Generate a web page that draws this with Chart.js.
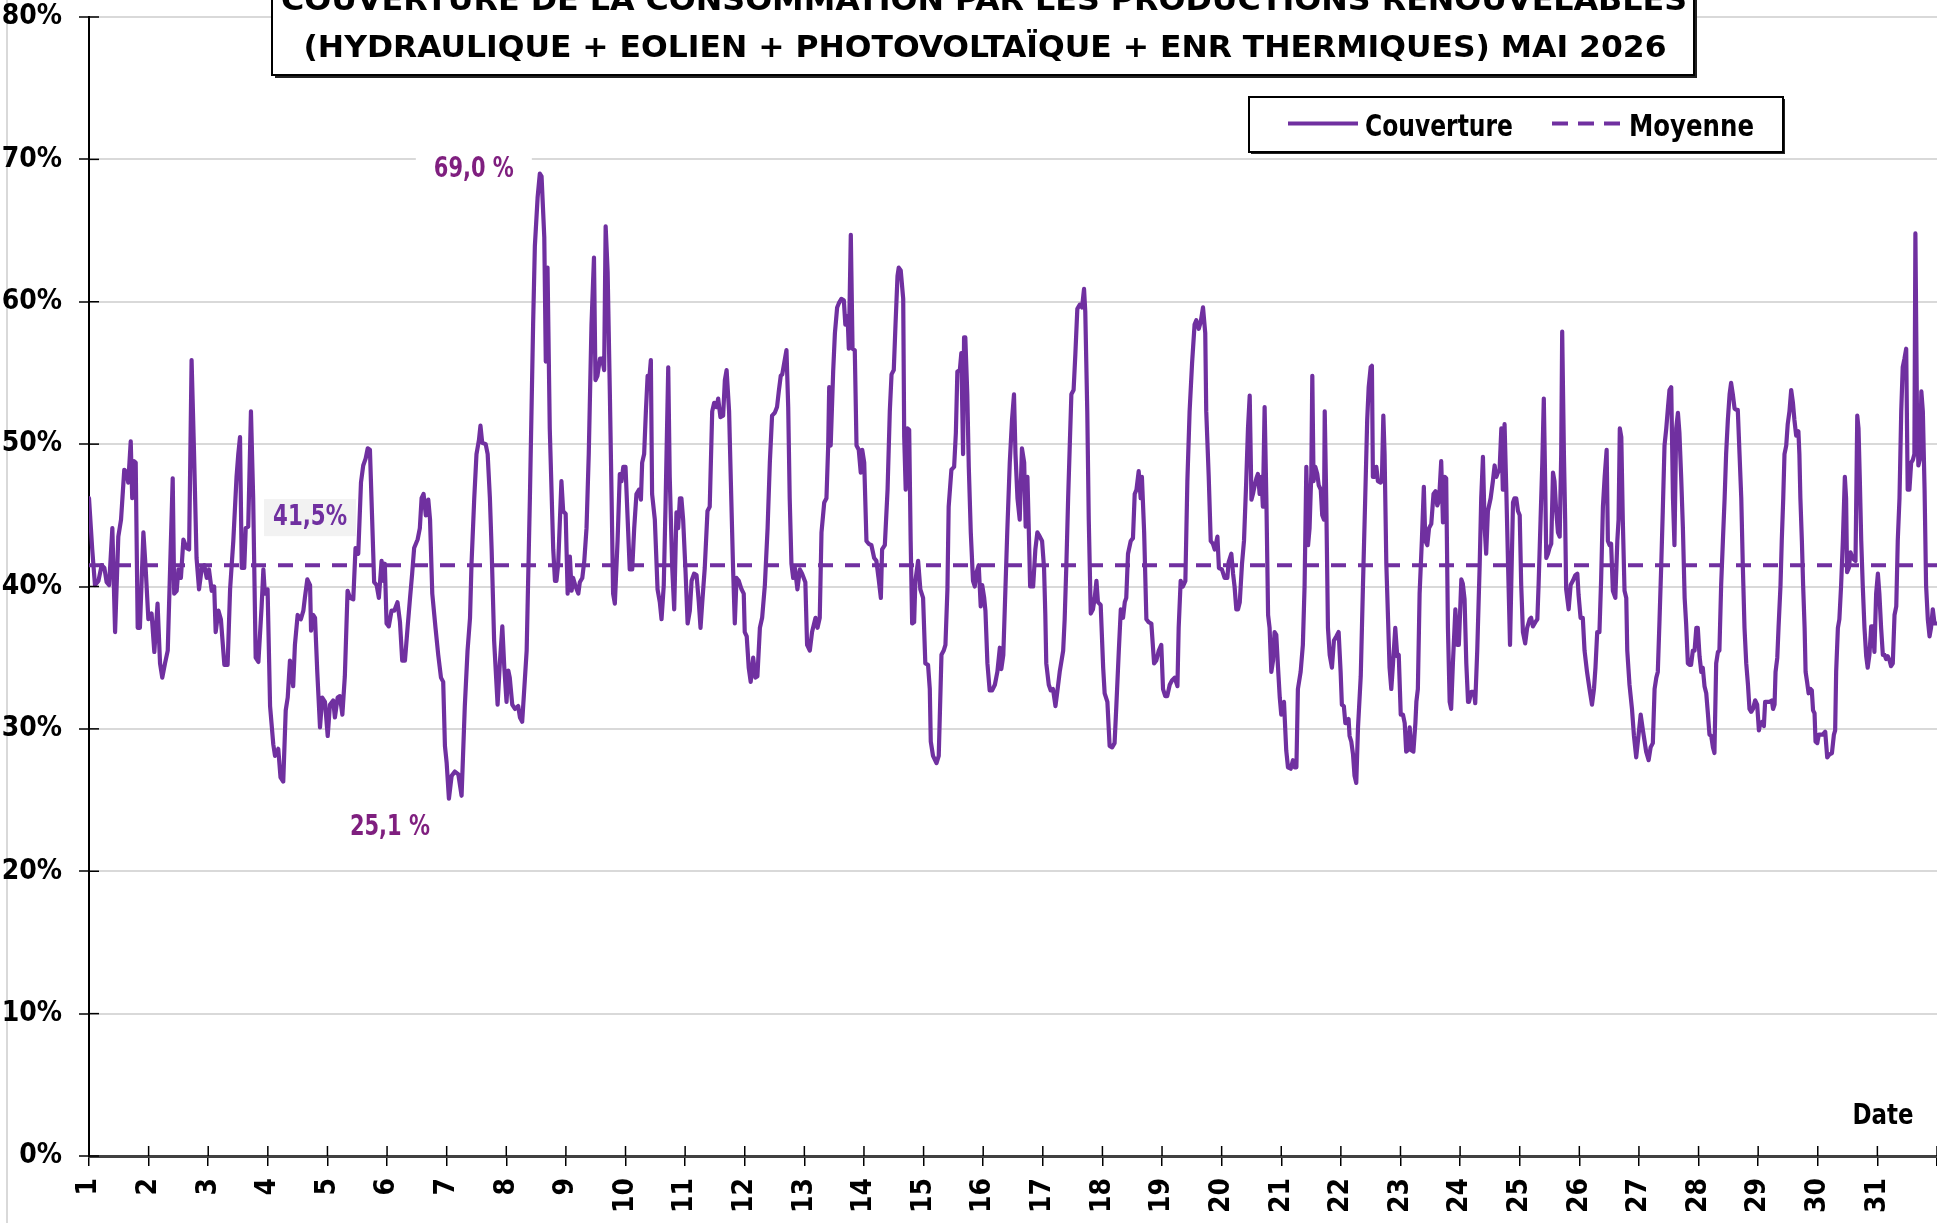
<!DOCTYPE html>
<html lang="fr">
<head>
<meta charset="utf-8">
<title>Couverture ENR - mai 2026</title>
<script src="https://cdn.jsdelivr.net/npm/chart.js@4.4.1/dist/chart.umd.min.js"></script>
<style>
  html, body { margin: 0; padding: 0; background: #fff; }
  #cadre { position: relative; width: 1937px; height: 1223px; }
</style>
</head>
<body>
<div id="cadre"><canvas id="graphique"></canvas></div>
<script>
// heures depuis le 1er mai 0h
const heures = [
  0, 1.3, 2.4, 3.8, 5.1, 6.2, 7.1, 8.1, 9.4, 10.5, 11.8, 12.9,
  14.2, 15.2, 15.8, 16.8, 17.4, 18.1, 18.8, 19.6, 20.5, 21.9, 22.8, 23.9,
  25.2, 26.3, 27.6, 28.6, 29.5, 30.6, 31.7, 33.7, 34.3, 35.3, 36.0, 37.0,
  38.0, 39.3, 40.3, 41.3, 42.3, 43.3, 44.3, 45.4, 46.4, 47.4, 48.3, 49.4,
  50.4, 51.0, 52.1, 53.1, 54.5, 55.8, 56.8, 58.1, 59.4, 60.1, 60.8, 61.5,
  62.5, 63.1, 64.1, 65.2, 66.1, 67.1, 68.2, 69.5, 70.2, 70.8, 71.9, 72.9,
  74.2, 74.9, 76.2, 77.1, 78.2, 79.2, 80.0, 80.9, 82.2, 82.9, 84.0, 85.3,
  86.3, 86.9, 87.9, 89.0, 89.4, 90.3, 91.0, 91.9, 93.0,
  93.9, 95.0, 96.1, 97.0, 98.3, 99.0, 100.1, 101.0, 102.0, 103.0, 104.1, 105.1,
  106.4, 107.3, 108.4, 109.5, 110.4, 111.4, 112.2, 113.1, 114.0, 114.8, 115.8, 116.7,
  117.8, 118.5, 119.1, 119.8, 120.7, 121.8, 122.9, 124.2, 125.2, 126.1, 127.2, 128.3,
  129.2, 130.1, 130.9, 132.3, 133.2, 133.9, 134.7, 135.6, 136.6, 137.3, 138.2, 139.5,
  140.6, 141.7, 142.6, 143.3, 144.0, 144.9, 146.0, 147.3, 148.7, 150.0, 151.3, 152.4,
  153.4, 154.0, 155.1, 156.0, 157.0, 157.6, 158.3, 159.7, 160.5, 161.4, 162.1, 163.1,
  164.5, 165.4, 166.4, 167.2, 168.1, 168.8, 169.4, 170.4, 171.5, 172.8, 173.5, 174.4,
  175.2, 176.2, 177.5, 178.8, 179.5, 180.6, 181.5, 182.2, 183.3, 183.9, 184.6, 185.5,
  186.9, 187.6, 188.2, 188.9, 190.2, 190.9, 191.9, 192.7, 193.6, 194.3, 194.9, 195.9,
  197.0, 197.6, 198.6, 199.4, 200.3, 201.2, 202.3, 203.3, 203.9, 204.7, 205.7, 206.6,
  207.4, 208.0, 208.8, 209.7, 210.4, 211.0, 211.7, 212.8, 213.7, 214.4, 215.1, 216.0,
  216.8, 217.7, 218.7, 219.5, 220.4, 221.4, 222.2, 222.7, 223.5, 224.2, 224.9, 225.4,
  226.2, 226.7, 227.8, 228.9, 229.8, 230.5, 231.4, 232.1, 233.2, 233.8, 234.8, 235.6,
  236.5, 237.2, 237.9, 238.5, 239.2, 240.2, 241.0, 241.9, 242.6, 243.6, 244.6, 245.5,
  246.2, 246.9, 247.9, 249.0, 249.9, 250.9, 251.7, 252.6, 253.3, 254.2, 255.3, 256.0,
  256.7, 257.7, 258.4, 259.3, 260.0, 260.7, 261.6, 262.7, 263.6, 264.0, 264.8, 265.6,
  266.4, 267.4, 268.3, 269.1, 270.1, 271.0, 272.1, 273.2, 274.1, 275.0, 276.1, 277.0,
  277.7, 278.5, 279.1, 279.9, 280.8, 281.5, 282.1, 282.8, 283.5, 284.2, 285.2, 286.2,
  287.1, 288.4, 289.1, 290.2, 291.1, 292.5, 293.3, 294.2, 294.9, 296.0, 296.9, 297.6,
  298.0, 298.6, 299.6, 300.3, 301.2, 301.9, 302.9, 303.9, 304.5, 305.4, 305.9, 306.7,
  307.4, 308.3, 309.0, 309.9, 310.7, 311.3, 312.1, 313.0, 313.9, 315.0, 316.1, 317.0,
  318.0, 318.8, 319.3, 320.4, 321.5, 322.4, 323.1, 324.0, 324.7, 325.5, 326.0, 326.8,
  327.8, 328.2, 328.8, 329.5, 330.2, 330.8, 331.4, 332.2, 332.7, 333.8, 334.7, 335.8,
  336.7, 337.8, 338.5, 338.9, 339.8, 341.2, 342.1, 343.2, 344.1, 344.8, 345.6, 346.1,
  347.2, 348.3, 349.0, 349.6, 350.6, 351.2, 351.9, 352.3, 352.8, 353.6, 354.2, 355.0,
  355.9, 356.6, 357.3, 358.2, 359.0, 359.6, 360.4, 360.9, 361.7, 362.6, 363.6, 364.7,
  365.7, 366.7, 367.3, 368.1,
  369.7, 370.7, 371.6, 372.4, 373.0, 373.8, 374.7, 375.6, 376.5, 377.1, 377.8, 378.3,
  378.9, 380.1, 381.0, 381.8, 382.8, 383.7, 384.5, 385.0, 385.4, 386.4, 387.2, 388.1,
  389.1, 389.9, 390.8, 392.2, 392.8, 393.5, 394.2, 394.8, 395.5, 396.4, 397.1, 397.9,
  398.9, 399.8, 400.6, 401.1, 401.9, 402.5, 403.3, 404.2, 404.9, 405.6, 406.2, 407.3,
  408.3, 408.9, 410.0, 410.9, 411.9, 412.9, 413.6, 414.6, 415.4, 416.3, 417.0, 417.6,
  418.3, 419.4, 420.3, 421.0, 421.7, 422.6, 423.4, 423.9, 424.8, 425.7, 426.6, 427.7,
  428.8, 429.7, 430.7, 431.7, 432.4, 433.3, 434.1, 435.1, 436.0, 437.1, 438.2, 438.7,
  439.5, 440.4, 441.4, 442.2, 443.1, 444.1, 445.1, 445.8, 446.8, 447.6, 448.5, 449.4,
  449.8, 450.8, 451.6, 452.5, 453.2, 454.3, 454.9, 456.1, 457.2, 458.3, 458.8, 459.9,
  460.6, 461.2, 461.9, 462.6,
  463.3, 464.2, 465.0, 465.9, 466.6, 467.3, 468.0, 468.6, 469.3, 470.0, 470.6, 471.3,
  472.0, 472.6, 473.3, 474.0, 474.7, 475.3, 476.0, 476.7, 477.3, 478.0, 478.7, 479.4,
  480.0, 481.1, 482.0, 482.7, 483.8, 484.7, 485.4, 486.1, 486.7, 487.8, 488.7, 489.4,
  490.1, 490.8, 491.4, 492.1, 492.5, 493.0, 493.7, 494.5, 495.1, 495.9, 496.5, 497.2,
  497.5, 498.1, 498.8, 499.5, 500.4, 501.2, 502.2, 503.1, 503.9, 504.4, 505.2, 505.8,
  506.6, 507.1, 507.5, 508.2, 508.9, 509.5, 510.2, 510.9, 512.0, 512.9, 513.8, 514.6,
  515.2, 516.0, 516.5, 516.9, 517.6, 518.3, 518.9, 520.0, 520.5, 521.1, 521.6, 522.3,
  523.0, 523.6, 524.3, 525.0, 525.9, 526.7, 527.3, 528.1, 529.0, 529.7, 530.3, 531.0,
  531.7, 532.4, 533.2, 534.0, 534.4, 535.0, 535.7, 536.6, 537.4, 538.0, 538.8, 539.5,
  540.4, 541.3, 542.1, 542.8, 543.5, 544.4, 545.1, 545.8, 546.4, 547.1, 547.8, 548.4,
  549.1, 550.1, 550.9, 551.5, 552.5, 553.1, 553.8, 554.5, 555.2,
  555.6, 556.5, 557.6, 558.1, 558.9, 559.9, 560.5, 561.2, 561.9, 562.5, 563.2, 564.3,
  565.2, 565.9, 566.6, 567.2, 567.9, 568.6, 569.2, 569.9, 570.6, 571.3, 572.1, 572.6,
  573.3, 573.9, 574.6, 575.3, 576.0, 576.6, 577.3, 578.2, 579.0, 580.0, 580.6, 581.3,
  582.3, 583.1, 583.6, 584.4, 585.1, 585.7, 586.3, 586.7, 587.4, 588.0, 588.7, 589.4,
  590.0, 590.7, 591.4, 592.1, 592.7, 593.1, 593.8, 594.3, 594.7, 595.7, 596.5, 597.4,
  598.4, 599.2, 599.7, 600.5, 601.4, 602.1, 603.1, 604.1, 605.1, 605.9, 606.5, 607.2,
  608.1, 608.8, 609.5, 610.2, 611.0, 611.5, 612.2, 612.8, 613.5, 614.5, 615.3, 615.8,
  616.3, 616.9, 617.5, 618.2, 618.9, 619.3, 620.2, 621.2, 622.0, 622.9, 623.8, 624.7,
  625.6, 626.3, 626.9, 627.9, 628.7, 629.6, 630.3, 631.0, 631.6, 632.3, 633.0, 633.6,
  634.3, 635.0, 635.7, 636.3, 637.0, 637.7, 638.3, 639.0, 639.7, 640.3, 641.0, 641.7,
  642.4, 643.0, 643.7, 644.4, 645.0, 645.7, 646.4, 647.1,
  647.7, 648.4, 649.1, 649.7, 650.4, 651.1, 651.8, 652.4, 653.1, 653.8, 654.4, 655.1,
  655.8, 656.4, 657.1, 657.8, 658.5, 659.1, 659.8, 660.5, 661.1, 661.8, 662.5, 663.2,
  663.8, 664.5, 665.2, 665.8, 666.5, 667.2, 667.9, 668.5, 669.2, 669.9, 670.8, 671.6,
  672.3, 672.9, 673.6, 674.3, 674.8, 675.6, 676.6, 677.5, 678.0, 678.6, 679.0, 679.7,
  680.2, 681.0, 681.5, 682.1, 682.6, 683.3, 683.9, 684.6, 685.3, 686.0, 686.6, 687.3,
  688.2, 688.6, 689.0, 689.6, 690.1, 690.7, 691.1, 691.7, 692.3, 693.1, 693.6, 694.1,
  694.7, 695.1, 695.8, 696.4, 697.1, 698.0, 699.0, 699.8, 700.7, 701.7, 702.5, 703.0,
  703.4, 704.1, 704.7, 705.4, 706.1, 706.9, 707.4, 707.8, 708.5, 709.2, 709.8, 710.5,
  711.2, 711.9, 712.4, 712.9, 713.5, 714.1, 714.8, 715.5, 716.1, 716.8, 717.5, 718.2,
  718.8, 719.5, 720.2, 720.8, 721.5, 722.2, 722.9, 723.5, 724.2, 724.9, 725.5, 726.2,
  726.9, 727.6, 728.2, 728.9, 729.6, 730.2, 730.9, 731.6, 732.2, 732.9, 733.6, 734.3,
  734.9, 735.3, 735.9, 736.5, 737.2, 737.7, 738.3, 739.0, 739.6, 740.3, 741.0, 741.6,
  742.3, 743.0, 743.8
];

// taux de couverture (%)
const couverture = [
  46.2, 42.6, 40.1, 40.4, 41.5, 41.3, 40.3, 40.1, 44.1, 36.8, 43.5, 44.7,
  48.2, 48.0, 47.3, 50.2, 46.2, 48.8, 48.7, 37.1, 37.1, 43.8, 41.3, 37.7,
  38.1, 35.4, 38.8, 34.6, 33.6, 34.6, 35.5, 47.6, 39.5, 39.7, 41.2, 40.6,
  43.3, 42.7, 42.6, 55.9, 49.3, 42.0, 39.8, 41.3, 41.5, 40.6, 41.2, 39.7,
  40.0, 36.8, 38.3, 37.7, 34.5, 34.5, 39.8, 43.2, 47.7, 49.3, 50.5, 41.3,
  41.3, 44.1, 44.2, 52.3, 46.2, 35.0, 34.7, 38.6, 41.2, 39.5, 39.8, 31.6,
  28.9, 28.1, 28.6, 26.6, 26.3, 31.3, 32.2, 34.8, 33.0, 35.9, 38.0, 37.7,
  38.3, 39.2, 40.5, 40.1, 36.9, 38.0, 37.8, 34.0, 30.1,
  32.2, 31.9, 29.5, 31.7, 32.0, 30.8, 32.2, 32.3, 31.0, 33.7, 39.7, 39.2,
  39.1, 42.7, 42.3, 47.3, 48.5, 49.0, 49.7, 49.6, 44.7, 40.3, 40.1, 39.2,
  41.8, 40.4, 41.6, 37.4, 37.2, 38.3, 38.3, 38.9, 37.5, 34.8, 34.8, 37.2,
  39.1, 40.9, 42.7, 43.3, 44.1, 46.2, 46.5, 45.0, 46.1, 44.7, 39.5, 37.1,
  35.2, 33.6, 33.3, 28.8, 27.6, 25.1, 26.7, 27.0, 26.8, 25.3, 31.6, 35.5,
  37.8, 41.6, 46.2, 49.3, 50.3, 51.3, 50.1, 50.0, 49.3, 46.2, 42.6, 36.2,
  31.7, 34.6, 37.2, 34.3, 31.9, 34.1, 33.6, 31.7, 31.4, 31.6, 30.8, 30.5,
  32.7, 35.5, 46.2, 58.4, 63.9, 67.3, 69.0, 68.8, 64.5, 55.8, 62.4, 51.1,
  42.6, 40.4, 40.4, 41.6, 47.4, 45.3, 45.1, 39.5, 42.1, 39.7, 40.6, 40.0,
  39.5, 40.3, 40.6, 41.8, 44.1, 49.3, 58.4, 63.1, 54.5, 54.8, 56.0, 56.0,
  55.2, 65.3, 62.1, 53.5, 46.2, 39.5, 38.8, 43.2, 47.9, 47.4, 48.4, 48.4,
  45.0, 41.2, 41.2, 44.1, 46.5, 46.8, 46.1, 48.7, 49.3, 52.3, 54.8, 54.2,
  55.9, 46.5, 44.7, 39.8, 38.9, 37.7, 40.1, 45.6, 55.4, 47.7, 41.3, 38.4,
  45.2, 44.1, 46.2, 46.2, 44.7, 40.9, 37.4, 38.3, 40.4, 40.9, 40.8, 38.9,
  37.1, 38.9, 41.3, 45.3, 45.6, 52.3, 52.9, 52.6, 53.2, 51.9, 52.0, 54.5,
  55.2, 52.3, 47.4, 41.3, 37.4, 40.6, 40.4, 39.8, 39.5, 36.8, 36.5, 34.3,
  33.3, 35.0, 33.6, 33.7, 37.1, 37.8, 40.1, 44.1, 48.7, 52.0, 52.2, 52.6,
  53.7, 54.8, 54.9, 55.7, 56.6, 52.6, 46.2, 41.6, 40.6, 41.3, 39.8, 41.2,
  40.9, 40.3, 35.9, 35.5, 36.8, 37.8, 37.1, 37.8, 43.8, 45.9, 46.2, 49.9,
  54.0, 49.9, 55.1, 57.8, 59.6, 59.9, 60.2, 60.1, 58.4, 59.0, 56.7, 64.7,
  56.7, 56.6, 49.9, 49.6, 48.0, 49.6, 48.7, 43.2, 43.0, 42.9, 42.0, 41.8,
  40.4, 39.2, 42.6, 42.9, 46.8, 52.3, 54.9, 55.2, 58.4, 61.8, 62.4, 62.2,
  60.2, 50.5, 46.8, 51.1, 51.0, 43.2, 37.4, 37.5, 40.4, 41.8, 39.8, 39.2,
  34.6, 34.5, 32.8, 29.1, 28.1, 27.6, 28.1, 35.2, 35.5, 35.9, 39.8, 45.6,
  48.2, 48.4, 50.8, 55.1, 55.2, 56.4, 49.3, 57.5, 57.5, 53.5, 48.4, 43.8,
  40.4, 40.0, 41.0, 41.5, 38.6, 40.1, 39.2, 38.3, 34.6, 32.7, 32.7, 33.1,
  34.0, 35.7, 34.2, 35.2,
  43.9, 48.7, 51.7, 53.5, 49.3, 46.2, 44.7, 49.7, 48.7, 44.2, 47.7, 44.4,
  40.0, 40.0, 42.6, 43.8, 43.5, 43.2, 41.3, 38.1, 34.6, 33.1, 32.7, 32.8,
  31.6, 32.7, 34.0, 35.5, 37.7, 41.6, 46.2, 49.6, 53.5, 53.8, 56.3, 59.5,
  59.8, 59.6, 60.9, 59.3, 52.3, 44.7, 38.1, 38.4, 39.2, 40.4, 38.9, 38.7,
  34.3, 32.5, 31.9, 28.8, 28.7, 29.0, 31.6, 35.5, 38.4, 37.8, 38.9, 39.2,
  42.3, 43.2, 43.4, 46.5, 46.8, 48.1, 46.2, 47.7, 43.8, 37.7, 37.5, 37.4,
  34.6, 34.8, 35.5, 35.9, 32.8, 32.3, 32.3, 33.1, 33.4, 33.6, 33.0, 37.1,
  40.4, 40.0, 40.4, 47.4, 52.3, 55.7, 58.4, 58.7, 58.1, 58.6, 59.6, 57.8,
  52.3, 47.7, 43.2, 43.0, 42.6, 43.5, 41.3, 41.2, 40.6, 40.6, 41.7, 42.3,
  40.9, 40.0, 38.4, 38.4,
  38.9, 41.6, 43.2, 47.4, 51.1, 53.4, 46.1, 46.5, 47.1, 47.6, 47.9, 46.5,
  47.7, 45.6, 52.6, 46.2, 38.0, 37.1, 34.0, 34.8, 36.8, 36.6, 34.3, 32.2,
  31.0, 31.9, 28.5, 27.3, 27.2, 27.8, 27.3, 27.3, 32.8, 34.0, 35.9, 40.1,
  48.4, 42.9, 44.1, 48.0, 54.8, 47.4, 48.4, 47.9, 47.1, 46.8, 45.0, 44.7,
  52.3, 46.2, 37.1, 35.2, 34.3, 36.2, 36.5, 36.8, 34.0, 31.7, 31.6, 30.4,
  30.4, 30.7, 29.5, 29.1, 28.2, 26.7, 26.2, 30.1, 33.7, 40.1, 46.2, 51.7,
  54.0, 55.4, 55.5, 47.7, 47.7, 48.4, 47.4, 47.3, 47.4, 52.0, 49.3, 41.6,
  37.7, 34.3, 32.8, 34.6, 37.1, 35.1, 35.2, 31.0, 31.0, 30.4, 28.4, 28.5,
  30.1, 28.5, 28.4, 30.4, 31.9, 32.8, 39.5, 43.2, 47.0, 43.2, 42.9, 44.1,
  44.4, 46.5, 46.7, 45.7, 46.0, 48.8, 44.5, 47.7, 47.6, 37.1, 31.9, 31.4,
  34.6, 38.4, 35.9, 35.9, 40.5, 40.2, 39.1, 34.6, 31.9,
  31.9, 32.6, 32.6, 31.8, 35.5, 41.6, 46.2, 49.1, 44.1, 42.3, 45.3, 46.2,
  47.4, 48.5, 47.7, 48.0, 48.2, 51.1, 46.8, 51.4, 46.8, 41.6, 35.9, 40.1,
  45.9, 46.2, 46.2, 45.3, 45.0, 40.1, 36.8, 36.0, 37.1, 37.7, 37.8, 37.2,
  37.5, 37.7, 40.1, 44.7, 48.7, 53.2, 46.8, 42.0, 42.3, 42.7, 43.0, 48.0,
  47.4, 45.3, 43.8, 43.5, 49.3, 57.9, 49.3, 44.7, 39.8, 38.4, 40.1, 40.4,
  40.8, 40.9, 39.4, 37.8, 37.8, 35.5, 34.0, 32.8, 31.7, 32.8, 34.3, 36.8,
  36.8, 40.6, 45.6, 47.7, 49.6, 43.2, 42.9, 43.0, 39.7, 39.2, 43.2, 44.7,
  51.1, 50.5, 44.7, 39.7, 39.2, 35.5, 33.1, 31.4, 29.5, 28.0, 29.5, 31.0,
  29.9, 29.1, 28.4, 27.8, 28.7, 29.0, 32.8, 33.6, 34.0, 37.7, 41.6, 45.3,
  49.9, 51.1, 52.6, 53.8, 54.0, 46.2, 42.9, 51.1, 52.2, 50.8, 47.7, 44.1,
  39.2, 37.4, 34.6, 34.5, 34.5, 35.5, 35.5, 37.1,
  37.1, 35.1, 34.0, 34.3, 33.0, 32.5, 31.0, 29.6, 29.5, 28.7, 28.3, 34.6,
  35.4, 35.5, 40.1, 43.2, 46.2, 49.3, 51.7, 53.5, 54.3, 53.5, 52.5, 52.4,
  52.4, 49.3, 46.2, 41.6, 37.1, 34.6, 33.1, 31.4, 31.2, 31.4, 32.0, 31.7,
  29.9, 30.4, 30.5, 30.2, 31.9, 31.9, 31.9, 32.0, 31.4, 31.7, 34.0, 35.0,
  37.1, 40.1, 43.2, 46.2, 49.3, 49.9, 51.4, 52.3, 53.8, 52.9, 51.7, 50.6,
  50.9, 49.3, 46.2, 43.2, 40.1, 37.1, 34.0, 33.3, 32.5, 32.8, 32.7, 31.3,
  31.1, 29.1, 29.0, 29.6, 29.6, 29.6, 29.8, 28.0, 28.2, 28.3, 29.6, 29.9,
  34.0, 37.1, 37.7, 40.1, 43.2, 47.7, 46.2, 41.0, 41.3, 42.4, 42.1, 41.9,
  41.8, 52.0, 51.1, 47.7, 43.2, 40.1, 37.1, 35.1, 34.3, 35.2, 37.2, 37.2,
  35.4, 39.5, 40.9, 39.5, 37.1, 35.2, 35.2, 34.9, 35.1, 34.8, 34.4, 34.6,
  38.0, 38.6, 43.2, 46.2, 52.3, 55.4, 56.0, 56.7, 46.8, 46.8, 48.7, 48.9,
  49.3, 64.8, 52.9, 48.5, 49.0, 53.7, 52.3, 46.8, 40.1, 37.7, 36.5, 37.1,
  38.4, 37.4, 37.4
];

const moyenne = 41.5;
const jours = Array.from({ length: 31 }, (_, i) => i + 1);
const titre = [
  'COUVERTURE DE LA CONSOMMATION PAR LES PRODUCTIONS RENOUVELABLES',
  '(HYDRAULIQUE + EOLIEN + PHOTOVOLTAÏQUE + ENR THERMIQUES) MAI 2026'
];

if (heures.length !== couverture.length) console.warn('tailles differentes', heures.length, couverture.length);

const violet = '#7030A0';
const prune = '#7F1F7F';
const police = '"Liberation Sans Narrow", "DejaVu Sans Condensed", "Liberation Sans", sans-serif';

// texte étiré/compressé à une largeur donnée
function texteLargeur(ctx, txt, x, y, largeur, align) {
  const w = ctx.measureText(txt).width;
  const sx = largeur ? largeur / w : 1;
  ctx.save();
  ctx.translate(x, y);
  ctx.scale(sx, 1);
  ctx.textAlign = align || 'center';
  ctx.fillText(txt, 0, 0);
  ctx.restore();
}

function trait(ctx, x1, y1, x2, y2) {
  ctx.beginPath();
  ctx.moveTo(x1, y1);
  ctx.lineTo(x2, y2);
  ctx.stroke();
}

function boite(ctx, x1, y1, x2, y2, ombre) {
  ctx.fillStyle = '#222';
  ctx.fillRect(x1 + ombre, y1 + ombre, x2 - x1, y2 - y1);
  ctx.fillStyle = '#fff';
  ctx.fillRect(x1, y1, x2 - x1, y2 - y1);
  ctx.lineWidth = 2;
  ctx.strokeStyle = '#000';
  ctx.strokeRect(x1, y1, x2 - x1, y2 - y1);
}

const virgule = v => v.toFixed(1).replace('.', ',');

const habillage = {
  id: 'habillage',
  beforeDraw(chart) {
    const ctx = chart.ctx;
    ctx.save();
    ctx.fillStyle = '#fff';
    ctx.fillRect(0, 0, chart.width, chart.height);
    ctx.fillStyle = '#d9d9d9';
    ctx.fillRect(6, 0, 2, chart.height);
    ctx.restore();
  },
  beforeDatasetsDraw(chart) {
    const { ctx, scales: { x, y } } = chart;
    ctx.save();
    ctx.textBaseline = 'middle';
    ctx.font = 'bold 28px ' + police;

    // étiquette de la moyenne
    const mx = x.getPixelForValue(89), my = y.getPixelForValue(moyenne) - 48;
    ctx.fillStyle = '#f2f2f2';
    ctx.fillRect(mx - 46, my - 18, 92, 37);
    ctx.fillStyle = violet;
    texteLargeur(ctx, virgule(moyenne) + '%', mx, my + 1, 74);

    // maximum et minimum
    const vmax = Math.max(...couverture), vmin = Math.min(...couverture);
    const imax = couverture.indexOf(vmax), imin = couverture.indexOf(vmin);
    const ax = x.getPixelForValue(heures[imax]) - 66, ay = y.getPixelForValue(vmax) - 4;
    const bx = x.getPixelForValue(heures[imin]) - 59, by = y.getPixelForValue(vmin) + 29;
    ctx.fillStyle = '#fff';
    ctx.fillRect(ax - 58, ay - 16, 116, 32);
    ctx.fillRect(bx - 58, by - 16, 116, 32);
    ctx.fillStyle = prune;
    texteLargeur(ctx, virgule(vmax) + ' %', ax, ay, 80);
    texteLargeur(ctx, virgule(vmin) + ' %', bx, by, 80);
    ctx.restore();
  },
  afterDraw(chart) {
    const { ctx, scales: { x, y }, chartArea } = chart;
    ctx.save();

    // graduations intérieures (croisées)
    ctx.strokeStyle = '#000';
    ctx.lineWidth = 1.5;
    y.ticks.forEach(t => {
      const py = y.getPixelForValue(t.value);
      trait(ctx, chartArea.left, py, chartArea.left + 10, py);
    });
    x.ticks.forEach(t => {
      const px = x.getPixelForValue(t.value);
      trait(ctx, px, chartArea.bottom - 10, px, chartArea.bottom);
    });

    // titre
    boite(ctx, 272, -10, 1694, 75, 3);
    ctx.fillStyle = '#000';
    ctx.textBaseline = 'alphabetic';
    ctx.font = 'bold 30px ' + police;
    texteLargeur(ctx, titre[0], 984, 10, 1406);
    texteLargeur(ctx, titre[1], 985, 57, 1363);

    // légende
    boite(ctx, 1249, 97, 1783, 152, 2);
    const ds = chart.data.datasets;
    ctx.lineWidth = 4;
    ctx.strokeStyle = ds[0].borderColor;
    ctx.setLineDash([]);
    trait(ctx, 1288, 123.5, 1358, 123.5);
    ctx.strokeStyle = ds[1].borderColor;
    ctx.setLineDash([16, 10]);
    trait(ctx, 1552, 123.5, 1622, 123.5);
    ctx.setLineDash([]);
    ctx.fillStyle = '#000';
    ctx.font = 'bold 31px ' + police;
    texteLargeur(ctx, ds[0].label, 1365, 136, 148, 'left');
    texteLargeur(ctx, ds[1].label, 1629, 136, 125, 'left');

    // titre de l'axe
    ctx.font = 'bold 28px ' + police;
    texteLargeur(ctx, 'Date', 1883, 1124, 61);
    ctx.restore();
  }
};

new Chart(document.getElementById('graphique'), {
  type: 'line',
  data: {
    datasets: [
      {
        label: 'Couverture',
        data: heures.map((h, i) => ({ x: h, y: couverture[i] })),
        borderColor: violet,
        borderWidth: 4.2,
        pointRadius: 0,
        tension: 0,
        borderJoinStyle: 'round',
        borderCapStyle: 'round'
      },
      {
        label: 'Moyenne',
        data: [{ x: 0, y: moyenne }, { x: 744, y: moyenne }],
        borderColor: violet,
        borderWidth: 4,
        borderDash: [15, 12],
        pointRadius: 0
      }
    ]
  },
  options: {
    responsive: true,
    maintainAspectRatio: false,
    animation: false,
    layout: { padding: { top: 17, left: 0, right: 0, bottom: 0 } },
    plugins: {
      legend: { display: false },
      title: { display: false },
      tooltip: { enabled: false }
    },
    scales: {
      x: {
        type: 'linear',
        min: 0,
        max: 744,
        ticks: {
          stepSize: 24,
          autoSkip: false,
          minRotation: 90,
          maxRotation: 90,
          padding: 12,
          color: '#000',
          font: { family: police, size: 28, weight: 'bold' },
          callback: v => {
            const i = Math.round(v / 24);
            return i < jours.length ? String(jours[i]) : '';
          }
        },
        grid: {
          drawOnChartArea: false,
          color: '#000',
          lineWidth: 1.5,
          tickLength: 10
        },
        border: { color: '#404040', width: 3 },
        afterFit: s => { s.height = 67; s.paddingLeft = 0; s.paddingRight = 0; }
      },
      y: {
        min: 0,
        max: 80,
        ticks: {
          stepSize: 10,
          padding: 17,
          color: '#000',
          font: { family: police, size: 28, weight: 'bold' },
          callback: v => v + '%'
        },
        grid: {
          color: '#d9d9d9',
          lineWidth: 2,
          tickColor: '#000',
          tickWidth: 1.5,
          tickLength: 10
        },
        border: { color: '#000', width: 2 },
        afterFit: s => { s.width = 89; s.paddingTop = 0; s.paddingBottom = 0; }
      }
    }
  },
  plugins: [habillage]
});
</script>
</body>
</html>
